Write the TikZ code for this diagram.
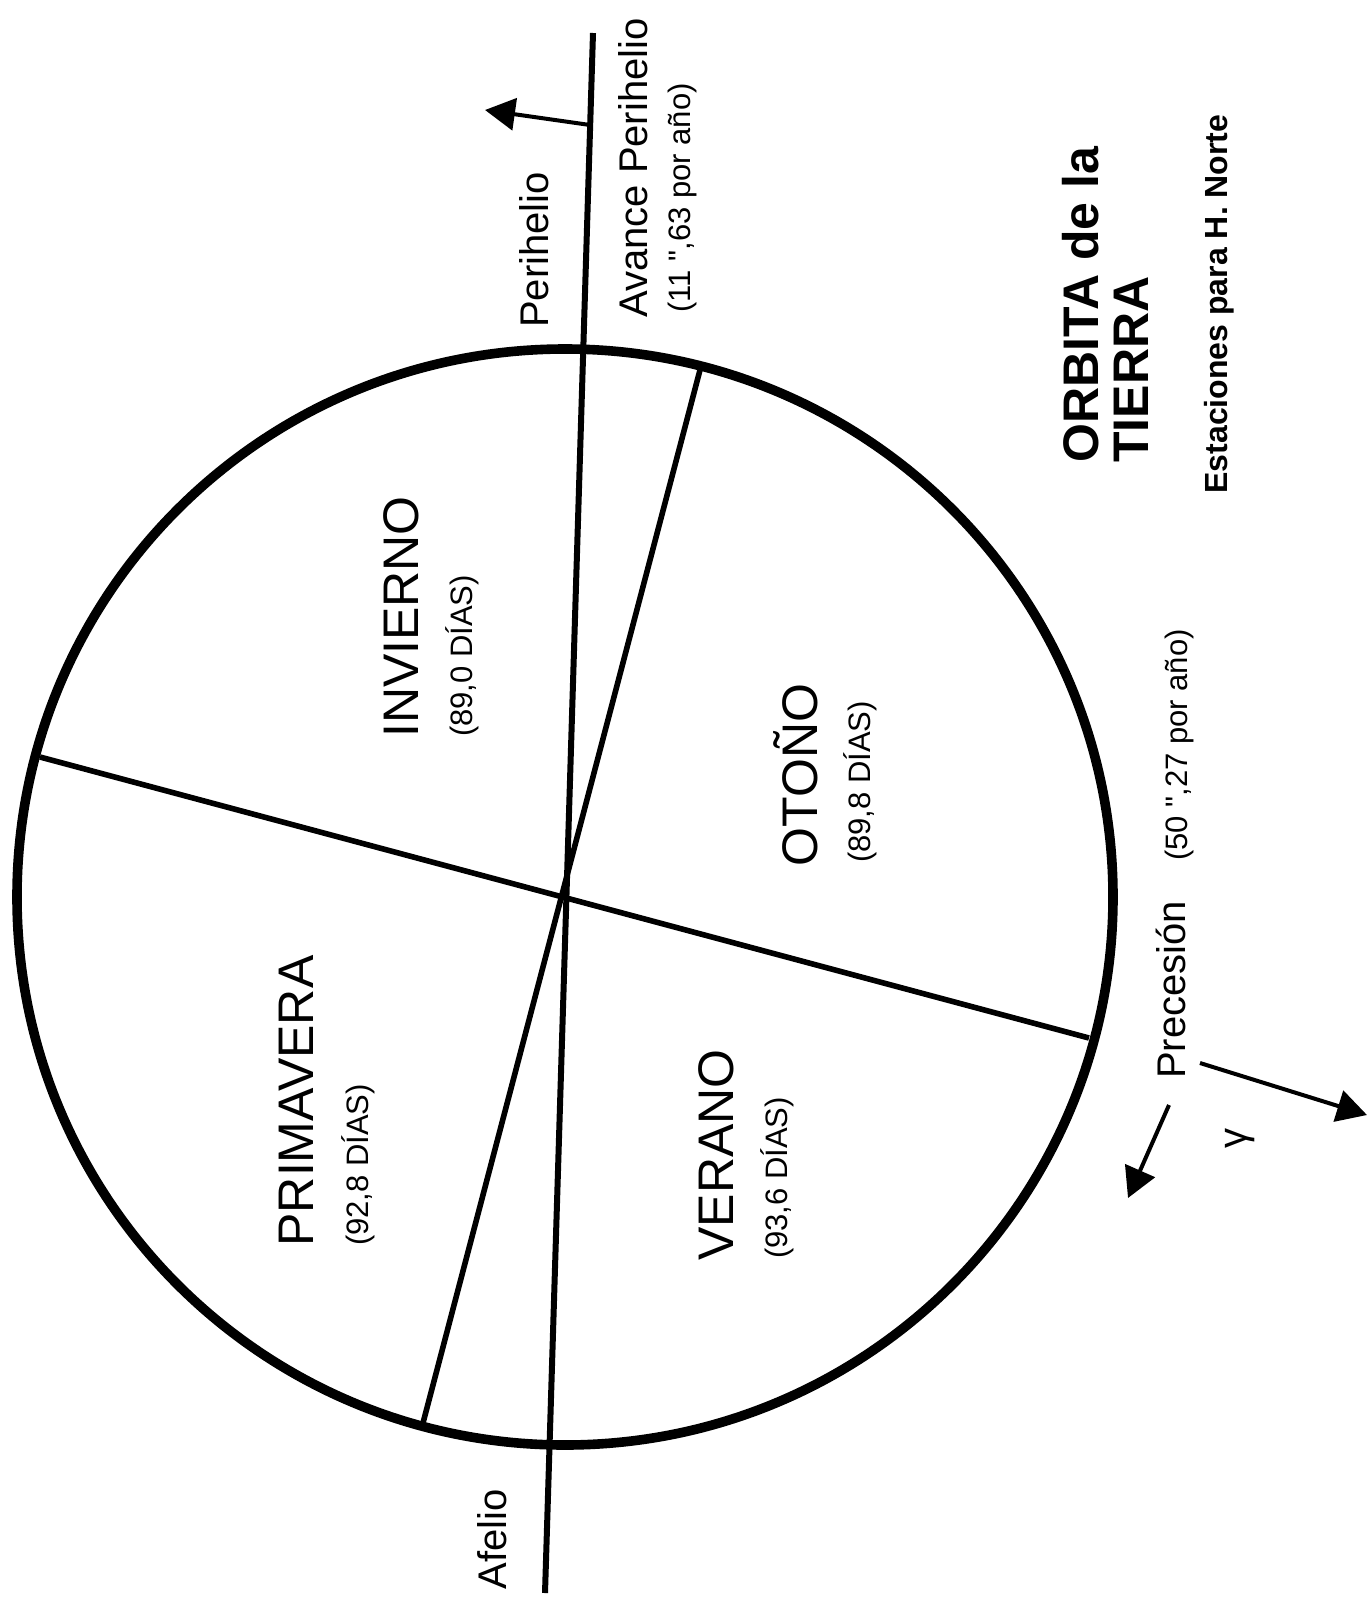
\documentclass[tikz,border=0pt]{standalone}
\usepackage{fontspec}
\setmainfont{Liberation Sans}
\newfontfamily\rawfont{Liberation Sans}[Ligatures=TeXOff]
\usetikzlibrary{arrows.meta}
\newcommand{\dq}{{\rawfont"}}
\begin{document}
\begin{tikzpicture}[x=0.5pt,y=-0.5pt,
  orbit/.style={line width=4.8pt},
  axisline/.style={line width=3pt},
  seasonline/.style={line width=2.8pt},
  arr/.style={line width=2pt,-{Triangle[length=15pt,width=16pt]}},
  lbl/.style={rotate=90,anchor=base,inner sep=0pt},
  bigtxt/.style={lbl,font=\fontsize{25}{25}\selectfont},
  smalltxt/.style={lbl,font=\fontsize{15.5}{16}\selectfont},
  midtxt/.style={lbl,font=\fontsize{20}{20}\selectfont},
  ratetxt/.style={lbl,font=\fontsize{15.5}{16}\selectfont},
  titletxt/.style={rotate=90,anchor=base west,inner sep=0pt,font=\bfseries\fontsize{25}{25}\selectfont},
  subtxt/.style={lbl,font=\bfseries\fontsize{16}{16}\selectfont}]
\useasboundingbox (0,0) rectangle (1371,1601);
\fill[white] (0,0) rectangle (1371,1601);
% key points
\coordinate (O) at (565,897);
\coordinate (peri) at (593,33);
\coordinate (afel) at (545,1593);
\coordinate (eqL) at (40,757);
\coordinate (eqR) at (1089,1038);
\coordinate (solT) at (700,370);
\coordinate (solB) at (423,1423);
\coordinate (arrS) at (590,125);
\coordinate (arrE) at (485,110);
\coordinate (pr1S) at (1200,1063);
\coordinate (pr1E) at (1367,1115);
\coordinate (pr2S) at (1169,1105);
\coordinate (pr2E) at (1128,1198);
% orbit and lines
\draw[orbit] (O) circle[radius=274pt];
\draw[axisline] (peri) -- (afel);
\draw[seasonline] (eqL) -- (eqR);
\draw[seasonline] (solT) -- (solB);
\draw[arr] (arrS) -- (arrE);
\draw[arr] (pr1S) -- (pr1E);
\draw[arr] (pr2S) -- (pr2E);
% season labels
\node[bigtxt] (inv) at (418,617) {INVIERNO};
\node[smalltxt] (invd) at (472,656) {(89,0 DÍAS)};
\node[bigtxt] (oto) at (817,775) {OTOÑO};
\node[smalltxt] (otod) at (870,782) {(89,8 DÍAS)};
\node[bigtxt] (pri) at (313,1101) {PRIMAVERA};
\node[smalltxt] (prid) at (368,1165) {(92,8 DÍAS)};
\node[bigtxt] (ver) at (733,1155) {VERANO};
\node[smalltxt] (verd) at (787,1178) {(93,6 DÍAS)};
% other labels
\node[midtxt] (perilbl) at (548,250) {Perihelio};
\node[midtxt] (avance) at (647,168) {Avance Perihelio};
\node[ratetxt] (avrate) at (690,198) {(11 \dq,63 por año)};
\node[midtxt] (afellbl) at (506,1539) {Afelio};
\node[midtxt] (prec) at (1185,990) {Precesión};
\node[ratetxt] (precrate) at (1187,745) {(50 \dq,27 por año)};
\node[rotate=90,inner sep=0pt,font=\fontsize{20}{20}\selectfont] (gam) at (1240,1138) {γ};
\node[titletxt] (t1) at (1098,463) {ORBITA de la};
\node[titletxt] (t2) at (1148,463) {TIERRA};
\node[subtxt] (sub) at (1227,304) {Estaciones para H. Norte};
\end{tikzpicture}
\end{document}
